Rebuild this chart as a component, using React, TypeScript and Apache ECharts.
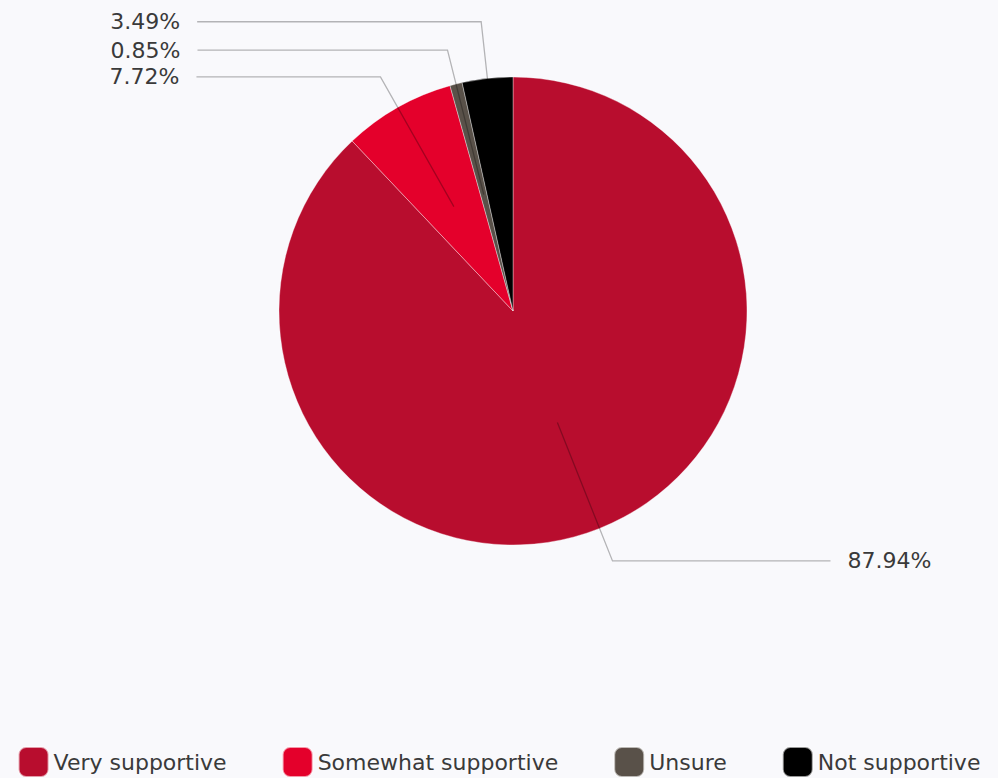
import React, { useEffect, useRef } from "react";
import * as echarts from "echarts";

const categories = ["Very supportive", "Somewhat supportive", "Unsure", "Not supportive"];
const values = [87.94, 7.72, 0.85, 3.49];
const colors = ["#b80d2e", "#e4002b", "#595149", "#000000"];
// connector geometry per slice: radial part, horizontal part
const lineLen1 = [149, 149, 149, 171];
const lineLen2 = [218, 184, 250, 284];

const FONT = "'DejaVu Sans', Verdana, sans-serif";

export default function App() {
  const ref = useRef<HTMLDivElement>(null);
  useEffect(() => {
    document.body.style.margin = "0";
    const chart = echarts.init(ref.current!, undefined, { renderer: "svg" });
    const mainData = categories.map((name, i) => ({
      name,
      value: values[i],
      itemStyle: { color: colors[i] },
    }));
    const labelData = categories.map((name, i) => ({
      name,
      value: values[i],
      labelLine: { length: lineLen1[i], length2: lineLen2[i] },
    }));
    chart.setOption({
      animation: false,
      backgroundColor: "#f9f9fc",
      color: colors,
      legend: {
        top: 741,
        left: "center",
        itemWidth: 30,
        itemHeight: 30,
        itemGap: 55,
        icon: "roundRect",
        selectedMode: false,
        data: categories,
        textStyle: { fontFamily: FONT, fontSize: 22, color: "#3a3a3a" },
      },
      series: [
        {
          type: "pie",
          z: 1,
          center: [513, 311],
          radius: 234,
          startAngle: 90,
          clockwise: true,
          silent: true,
          label: { show: false },
          labelLine: { show: false },
          itemStyle: { borderColor: "rgba(255,255,255,0.6)", borderWidth: 0.6 },
          emphasis: { disabled: true },
          data: mainData,
        },
        {
          type: "pie",
          z: 3,
          center: [513, 311],
          radius: 120,
          startAngle: 90,
          clockwise: true,
          silent: true,
          avoidLabelOverlap: false,
          itemStyle: { color: "rgba(0,0,0,0)" },
          emphasis: { disabled: true },
          label: {
            show: true,
            position: "outside",
            distanceToLabelLine: 17,
            formatter: (p: any) => `${p.value.toFixed(2)}%`,
            fontFamily: FONT,
            fontSize: 22,
            color: "#3a3a3a",
          },
          labelLine: {
            show: true,
            smooth: false,
            lineStyle: { color: "rgba(0,0,0,0.28)", width: 1.3 },
          },
          data: labelData,
        },
      ],
    });
    return () => chart.dispose();
  }, []);
  return <div ref={ref} style={{ position: "absolute", left: 0, top: 0, width: 998, height: 778 }} />;
}
